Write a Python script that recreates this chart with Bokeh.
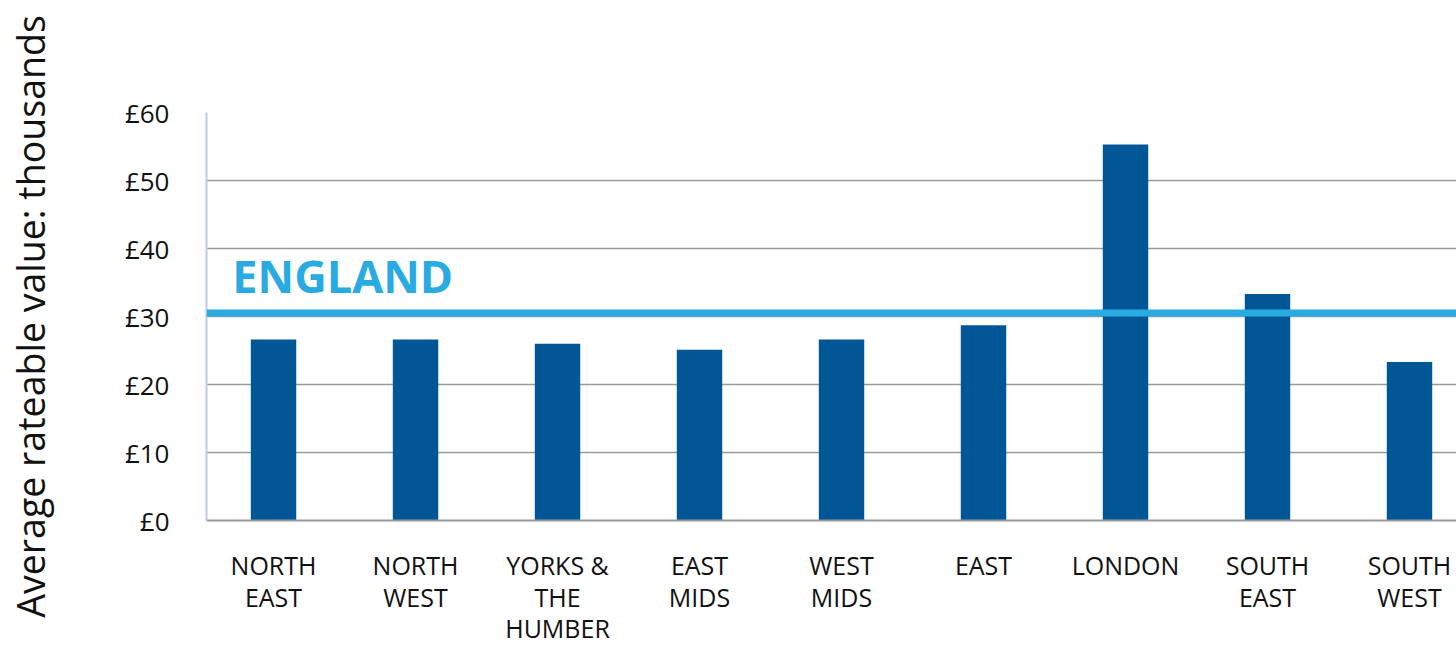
from bokeh.plotting import figure
from bokeh.models import Range1d, FixedTicker, Span, Label, LinearAxis
from bokeh.embed import file_html
from bokeh.resources import INLINE

regions = ["NORTH\nEAST", "NORTH\nWEST", "YORKS &\nTHE\nHUMBER", "EAST\nMIDS",
           "WEST\nMIDS", "EAST", "LONDON", "SOUTH\nEAST", "SOUTH\nWEST"]
values = [26.6, 26.6, 26.0, 25.1, 26.6, 28.7, 55.3, 33.3, 23.3]
england = 30.5
y_ticks = [0, 10, 20, 30, 40, 50, 60]
y_labels = ["£0", "£10", "£20", "£30", "£40", "£50", "£60"]

xs = list(range(len(regions)))
lines = [r.split("\n") for r in regions]
n_lines = max(len(l) for l in lines)

p = figure(width=1456, height=647, output_backend="svg", toolbar_location=None,
           x_range=Range1d(-0.472, 8.331), y_range=Range1d(0, 60),
           min_border_left=206, min_border_right=0, min_border_top=112,
           min_border_bottom=127)
p.outline_line_color = None
p.background_fill_color = "white"

p.vbar(x=xs, top=values, width=0.32, bottom=0, color="#015696", line_color=None)

p.add_layout(Span(location=england, dimension="width", line_color="#29abe2",
                  line_width=7))
p.add_layout(Label(x=-0.29, y=england + 5.6, text="ENGLAND", text_color="#29abe2",
                   text_font="Open Sans", text_font_style="bold",
                   text_font_size="45px", text_baseline="alphabetic"))

# grid
p.xgrid.grid_line_color = None
p.ygrid.ticker = FixedTicker(ticks=y_ticks[1:])
p.ygrid.grid_line_color = "#9a9a9a"
p.ygrid.grid_line_width = 1.6

# y axis
ya = p.yaxis[0]
ya.ticker = FixedTicker(ticks=y_ticks)
ya.major_label_overrides = {t: l for t, l in zip(y_ticks, y_labels)}
ya.axis_line_color = "#b9cde5"
ya.axis_line_width = 2
ya.major_tick_line_color = None
ya.minor_tick_line_color = None
ya.major_label_standoff = 31
ya.major_label_text_font = "Open Sans"
ya.major_label_text_font_size = "26px"
ya.major_label_text_color = "#111111"
ya.axis_label = "Average rateable value: thousands"
ya.axis_label_text_font = "Open Sans"
ya.axis_label_text_font_style = "normal"
ya.axis_label_text_font_size = "37.5px"
ya.axis_label_text_color = "#111111"
ya.axis_label_standoff = 66

# x axis: one axis per label line so the line pitch can be controlled
xa = p.xaxis[0]
axes = [xa]
for k in range(1, n_lines):
    ax = LinearAxis()
    p.add_layout(ax, "below")
    axes.append(ax)

standoffs = [21, -11, -12]
for k, ax in enumerate(axes):
    ax.ticker = FixedTicker(ticks=xs)
    ax.major_label_overrides = {i: (l[k] if k < len(l) else " ") for i, l in zip(xs, lines)}
    ax.axis_line_color = "#9a9a9a" if k == 0 else None
    ax.axis_line_width = 2
    ax.major_tick_line_color = None
    ax.minor_tick_line_color = None
    ax.major_label_standoff = standoffs[k]
    ax.major_label_text_font = "Open Sans"
    ax.major_label_text_font_size = "25px"
    ax.major_label_text_color = "#111111"

open("out.html", "w").write(file_html(p, INLINE))
